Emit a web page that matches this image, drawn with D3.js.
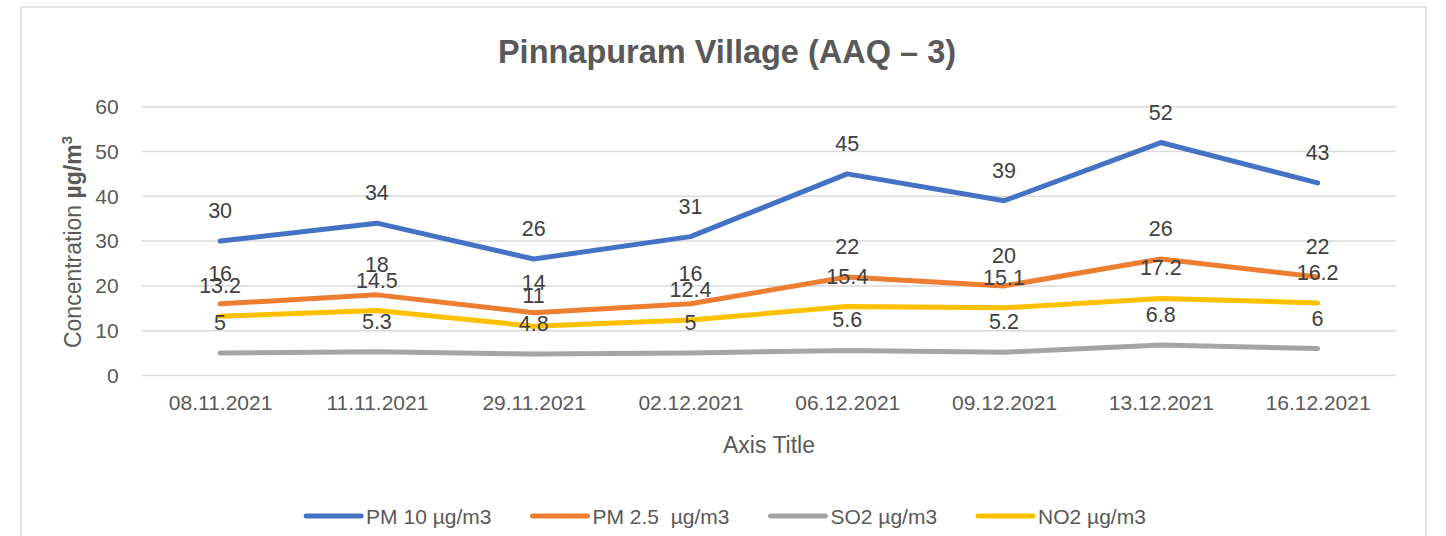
<!DOCTYPE html>
<html>
<head>
<meta charset="utf-8">
<script src="https://cdn.jsdelivr.net/npm/d3@7"></script>
<style>
  body { margin: 0; background: #fff; }
  text { font-family: "Liberation Sans", Arial, sans-serif; }
</style>
</head>
<body>
<div id="chart"></div>
<script>
// ---- data ----
var dates = ["08.11.2021", "11.11.2021", "29.11.2021", "02.12.2021",
             "06.12.2021", "09.12.2021", "13.12.2021", "16.12.2021"];
var pm10 = [30, 34, 26, 31, 45, 39, 52, 43];
var pm25 = [16, 18, 14, 16, 22, 20, 26, 22];
var so2  = [5, 5.3, 4.8, 5, 5.6, 5.2, 6.8, 6];
var no2  = [13.2, 14.5, 11, 12.4, 15.4, 15.1, 17.2, 16.2];
var seriesNames = ["PM 10 \u00b5g/m3", "PM 2.5  \u00b5g/m3", "SO2 \u00b5g/m3", "NO2 \u00b5g/m3"];
var yTicks = [0, 10, 20, 30, 40, 50, 60];

(function () {
    "use strict";

    var W = 1446, H = 536;
    var colors = ["#4472C4", "#ED7D31", "#A5A5A5", "#FFC000"];
    var series = [pm10, pm25, so2, no2].map(function (vals, i) {
        return { name: seriesNames[i], color: colors[i], values: vals };
    });

    var svg = d3.select("#chart").append("svg")
        .attr("width", W)
        .attr("height", H);

    // chart frame
    svg.append("rect")
        .attr("x", 21).attr("y", 7)
        .attr("width", 1405).attr("height", 540)
        .attr("fill", "#fff")
        .attr("stroke", "#D9D9D9")
        .attr("stroke-width", 1.5);

    var plot = { left: 141.7, right: 1396, top: 106.7, bottom: 375.5 };

    var x = d3.scalePoint().domain(dates)
        .range([plot.left, plot.right]).padding(0.5);
    var y = d3.scaleLinear().domain([0, 60])
        .range([plot.bottom, plot.top]);

    // gridlines
    svg.append("g").selectAll("line")
        .data(yTicks).join("line")
        .attr("x1", plot.left).attr("x2", plot.right)
        .attr("y1", function (d) { return y(d); })
        .attr("y2", function (d) { return y(d); })
        .attr("stroke", "#D9D9D9")
        .attr("stroke-width", 1.5);

    // y axis labels
    var yAxis = svg.append("g")
        .attr("transform", "translate(" + (plot.left - 4) + ",0)")
        .call(d3.axisLeft(y).tickValues(yTicks).tickSize(0).tickPadding(19));
    yAxis.select(".domain").remove();
    yAxis.selectAll("text")
        .attr("fill", "#595959")
        .attr("font-size", "21px")
        .attr("font-family", "Liberation Sans, Arial, sans-serif");

    // x axis labels
    var xAxis = svg.append("g")
        .attr("transform", "translate(0," + plot.bottom + ")")
        .call(d3.axisBottom(x).tickSize(0).tickPadding(20));
    xAxis.select(".domain").remove();
    xAxis.selectAll("text")
        .attr("fill", "#595959")
        .attr("font-size", "21px")
        .attr("font-family", "Liberation Sans, Arial, sans-serif");

    // lines
    var line = d3.line()
        .x(function (d, i) { return x(dates[i]); })
        .y(function (d) { return y(d); });

    svg.append("g").selectAll("path")
        .data(series).join("path")
        .attr("d", function (s) { return line(s.values); })
        .attr("fill", "none")
        .attr("stroke", function (s) { return s.color; })
        .attr("stroke-width", 5)
        .attr("stroke-linejoin", "round")
        .attr("stroke-linecap", "round");

    // data labels (above each point)
    series.forEach(function (s) {
        svg.append("g").selectAll("text")
            .data(s.values).join("text")
            .attr("x", function (d, i) { return x(dates[i]); })
            .attr("y", function (d) { return y(d) - 23; })
            .attr("text-anchor", "middle")
            .attr("fill", "#404040")
            .attr("font-size", "21.5px")
            .text(function (d) { return d; });
    });

    // title
    svg.append("text")
        .attr("x", 727).attr("y", 63)
        .attr("text-anchor", "middle")
        .attr("fill", "#595959")
        .attr("font-size", "32.5px")
        .attr("font-weight", "bold")
        .text("Pinnapuram Village (AAQ \u2013 3)");

    // axis titles
    svg.append("text")
        .attr("x", 769).attr("y", 453)
        .attr("text-anchor", "middle")
        .attr("fill", "#595959")
        .attr("font-size", "23px")
        .text("Axis Title");

    var yTitle = svg.append("text")
        .attr("transform", "translate(81,242) rotate(-90)")
        .attr("text-anchor", "middle")
        .attr("fill", "#595959")
        .attr("font-size", "23px");
    yTitle.append("tspan").text("Concentration ");
    yTitle.append("tspan").attr("font-weight", "bold").text("\u00b5g/m");
    yTitle.append("tspan").attr("font-weight", "bold")
        .attr("font-size", "15px").attr("dy", -9).text("3");

    // legend
    var legend = svg.append("g");
    var items = legend.selectAll("g")
        .data(series).join("g");
    items.append("line")
        .attr("x1", 0).attr("x2", 55)
        .attr("y1", 0).attr("y2", 0)
        .attr("stroke", function (s) { return s.color; })
        .attr("stroke-width", 5)
        .attr("stroke-linecap", "round");
    items.append("text")
        .attr("x", 60).attr("y", 8)
        .attr("fill", "#595959")
        .attr("font-size", "21px")
        .style("white-space", "pre")
        .text(function (s) { return s.name; });

    var gap = 41;
    var pos = 0;
    items.each(function () {
        var g = d3.select(this);
        g.attr("transform", "translate(" + pos + ",0)");
        pos += 60 + g.select("text").node().getComputedTextLength() + gap;
    });
    var total = pos - gap;
    legend.attr("transform", "translate(" + (726 - total / 2) + ",516)");
})();
</script>
</body>
</html>
